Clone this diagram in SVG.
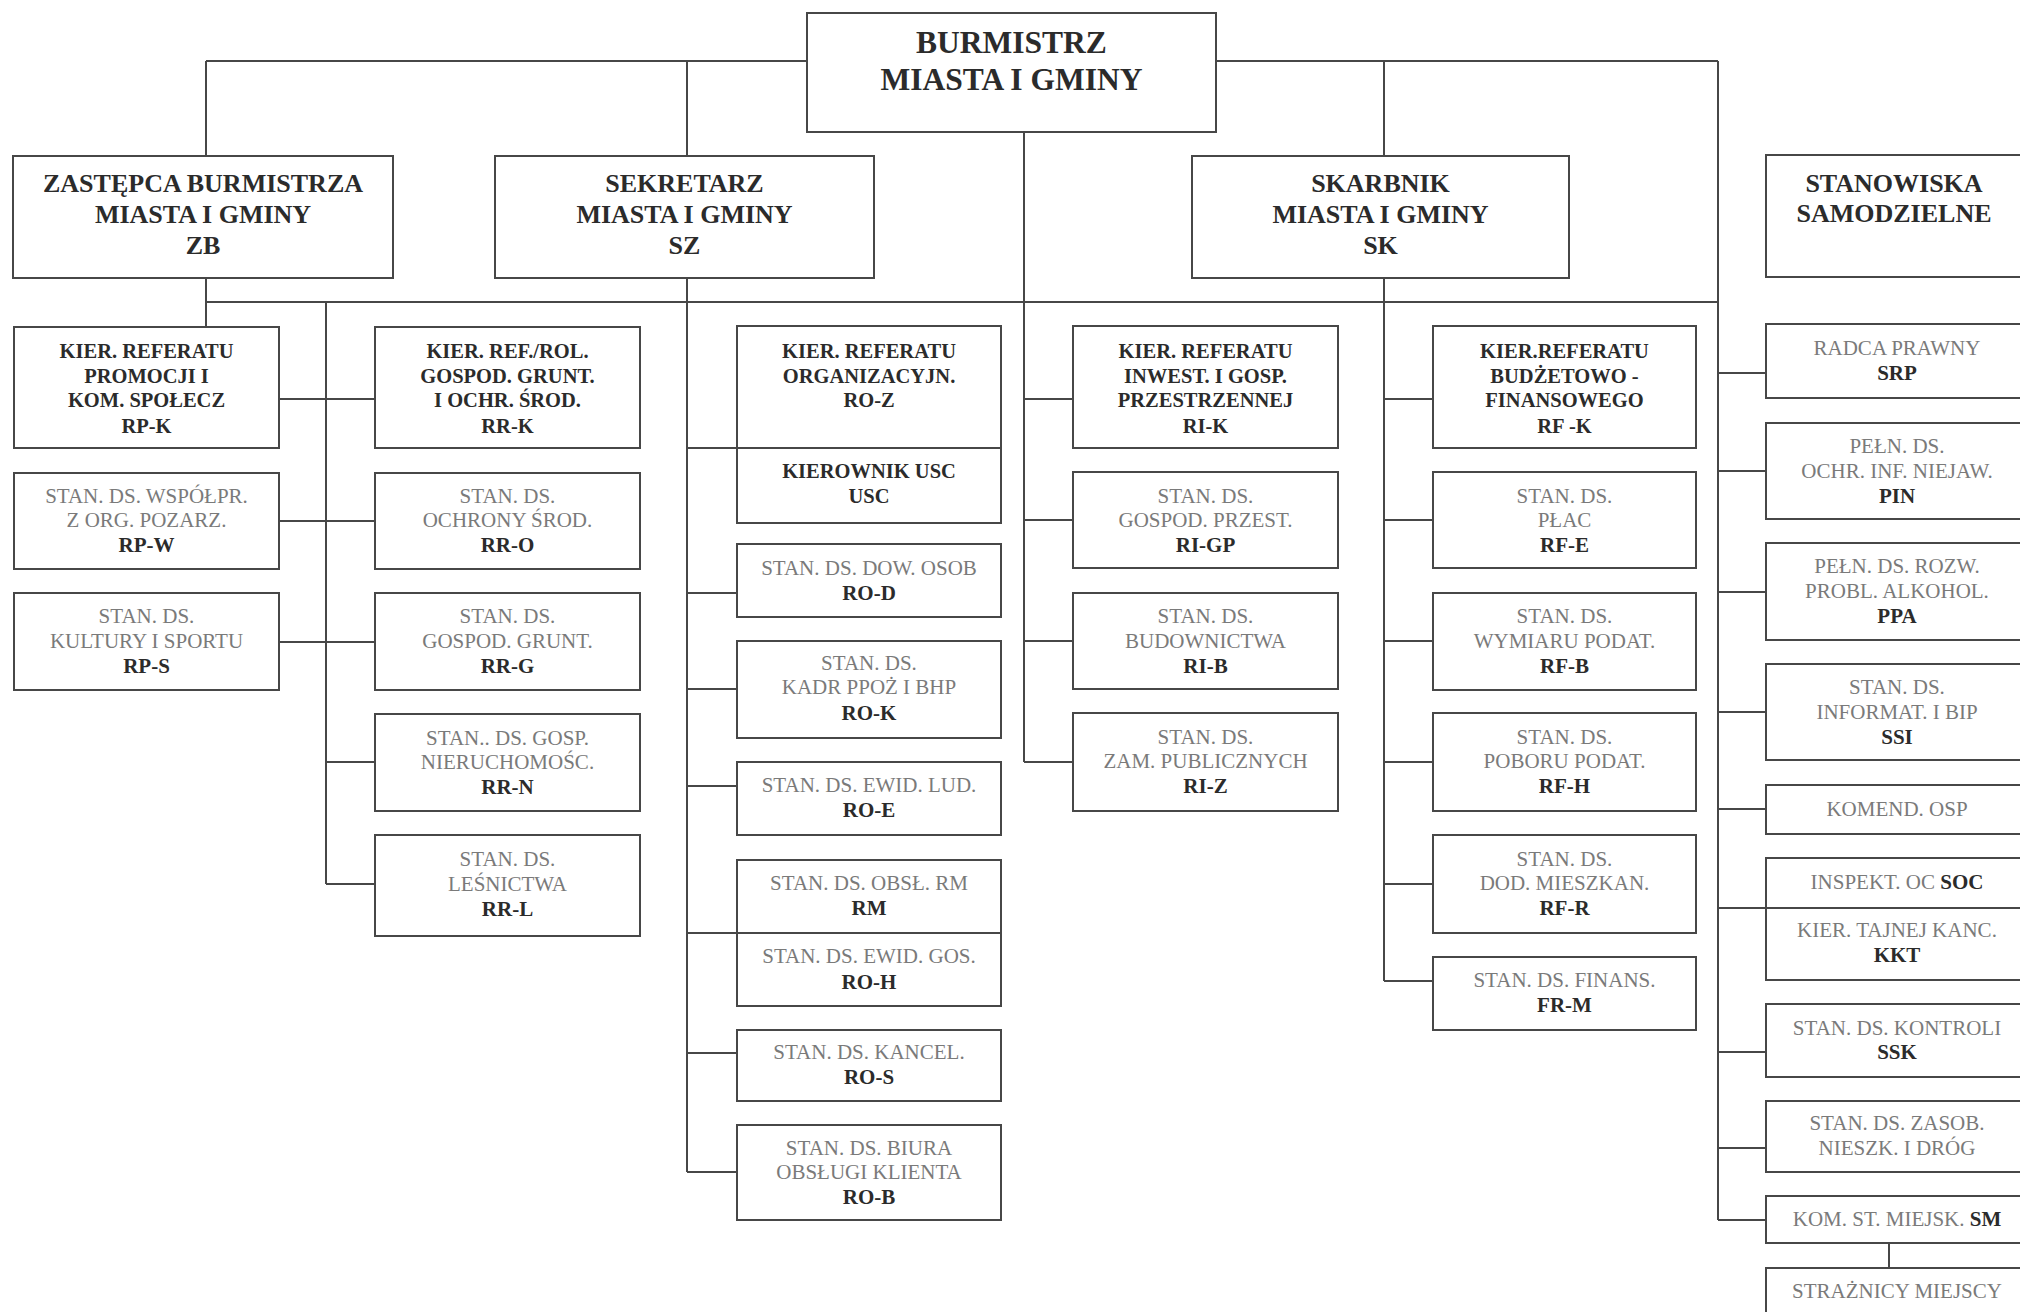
<svg xmlns="http://www.w3.org/2000/svg" width="2020" height="1312" viewBox="0 0 2020 1312">
<style>
.box{fill:#fff;stroke:#474747;stroke-width:2}
.c{stroke:#474747;stroke-width:2;fill:none}
text{font-family:"Liberation Serif","Times New Roman",serif;text-anchor:middle}
.h1{font-size:31.5px;font-weight:bold;fill:#2b2b2b}
.h2{font-size:26px;font-weight:bold;fill:#2b2b2b}
.b{font-size:20.5px;font-weight:bold;fill:#2b2b2b}
.g{font-size:21px;fill:#7a7a7a}
.k{font-weight:bold;fill:#2b2b2b}
</style>
<rect width="2020" height="1312" fill="#fff"/>
<g id="connectors">
<path class="c" d="M206 61H807M1216 61H1718M206 61V156M687 61V156M1384 61V156M1718 61V1220"/>
<path class="c" d="M206 302H1718M206 278V327M326 302V884M687 278V1172M1024 132V762M1384 278V981"/>
<path class="c" d="M279 399H375M279 521H375M279 642H375M326 762H375M326 884H375"/>
<path class="c" d="M687 448H737M687 593H737M687 689H737M687 786H737M687 933H737M687 1053H737M687 1172H737"/>
<path class="c" d="M1024 399H1073M1024 520H1073M1024 641H1073M1024 762H1073"/>
<path class="c" d="M1384 399H1433M1384 520H1433M1384 641H1433M1384 762H1433M1384 884H1433M1384 981H1433"/>
<path class="c" d="M1718 373H1766M1718 471H1766M1718 592H1766M1718 712H1766M1718 809H1766M1718 908H1766M1718 1052H1766M1718 1148H1766M1718 1220H1766M1889 1243V1268"/>
</g>
<g id="burmistrz"><rect class="box" x="807" y="13" width="409" height="119"/><text class="h1" x="1011.5"><tspan x="1011.5" y="53">BURMISTRZ</tspan><tspan x="1011.5" y="90">MIASTA I GMINY</tspan></text></g>
<g id="zb"><rect class="box" x="13" y="156" width="380" height="122"/><text class="h2"><tspan x="203" y="192">ZASTĘPCA BURMISTRZA</tspan><tspan x="203" y="223">MIASTA I GMINY</tspan><tspan x="203" y="254">ZB</tspan></text></g>
<g id="sz"><rect class="box" x="495" y="156" width="379" height="122"/><text class="h2"><tspan x="684.5" y="192">SEKRETARZ</tspan><tspan x="684.5" y="223">MIASTA I GMINY</tspan><tspan x="684.5" y="254">SZ</tspan></text></g>
<g id="sk"><rect class="box" x="1192" y="156" width="377" height="122"/><text class="h2"><tspan x="1380.5" y="192">SKARBNIK</tspan><tspan x="1380.5" y="223">MIASTA I GMINY</tspan><tspan x="1380.5" y="254">SK</tspan></text></g>
<g id="stanowiska"><rect class="box" x="1766" y="155" width="262" height="122"/><text class="h2"><tspan x="1894" y="192">STANOWISKA</tspan><tspan x="1894" y="222">SAMODZIELNE</tspan></text></g>

<g id="rp-k"><rect class="box" x="14" y="327" width="265" height="121"/><text class="b"><tspan x="146.5" y="358">KIER. REFERATU</tspan><tspan x="146.5" y="383">PROMOCJI I</tspan><tspan x="146.5" y="407">KOM. SPOŁECZ</tspan><tspan x="146.5" y="433">RP-K</tspan></text></g>
<g id="rp-w"><rect class="box" x="14" y="473" width="265" height="96"/><text class="g"><tspan x="146.5" y="503">STAN. DS. WSPÓŁPR.</tspan><tspan x="146.5" y="527">Z ORG. POZARZ.</tspan><tspan class="k" x="146.5" y="552">RP-W</tspan></text></g>
<g id="rp-s"><rect class="box" x="14" y="593" width="265" height="97"/><text class="g"><tspan x="146.5" y="623">STAN. DS.</tspan><tspan x="146.5" y="648">KULTURY I SPORTU</tspan><tspan class="k" x="146.5" y="673">RP-S</tspan></text></g>

<g id="rr-k"><rect class="box" x="375" y="327" width="265" height="121"/><text class="b"><tspan x="507.5" y="358">KIER. REF./ROL.</tspan><tspan x="507.5" y="383">GOSPOD. GRUNT.</tspan><tspan x="507.5" y="407">I OCHR. ŚROD.</tspan><tspan x="507.5" y="433">RR-K</tspan></text></g>
<g id="rr-o"><rect class="box" x="375" y="473" width="265" height="96"/><text class="g"><tspan x="507.5" y="503">STAN. DS.</tspan><tspan x="507.5" y="527">OCHRONY ŚROD.</tspan><tspan class="k" x="507.5" y="552">RR-O</tspan></text></g>
<g id="rr-g"><rect class="box" x="375" y="593" width="265" height="97"/><text class="g"><tspan x="507.5" y="623">STAN. DS.</tspan><tspan x="507.5" y="648">GOSPOD. GRUNT.</tspan><tspan class="k" x="507.5" y="673">RR-G</tspan></text></g>
<g id="rr-n"><rect class="box" x="375" y="714" width="265" height="97"/><text class="g"><tspan x="507.5" y="745">STAN.. DS. GOSP.</tspan><tspan x="507.5" y="769">NIERUCHOMOŚC.</tspan><tspan class="k" x="507.5" y="794">RR-N</tspan></text></g>
<g id="rr-l"><rect class="box" x="375" y="835" width="265" height="101"/><text class="g"><tspan x="507.5" y="866">STAN. DS.</tspan><tspan x="507.5" y="891">LEŚNICTWA</tspan><tspan class="k" x="507.5" y="916">RR-L</tspan></text></g>

<g id="ro-z"><rect class="box" x="737" y="326" width="264" height="122"/><text class="b"><tspan x="869" y="358">KIER. REFERATU</tspan><tspan x="869" y="383">ORGANIZACYJN.</tspan><tspan x="869" y="407">RO-Z</tspan></text></g>
<g id="usc"><rect class="box" x="737" y="448" width="264" height="75"/><text class="b"><tspan x="869" y="478">KIEROWNIK USC</tspan><tspan x="869" y="503">USC</tspan></text></g>
<g id="ro-d"><rect class="box" x="737" y="544" width="264" height="73"/><text class="g"><tspan x="869" y="575">STAN. DS. DOW. OSOB</tspan><tspan class="k" x="869" y="600">RO-D</tspan></text></g>
<g id="ro-k"><rect class="box" x="737" y="641" width="264" height="97"/><text class="g"><tspan x="869" y="670">STAN. DS.</tspan><tspan x="869" y="694">KADR PPOŻ I BHP</tspan><tspan class="k" x="869" y="720">RO-K</tspan></text></g>
<g id="ro-e"><rect class="box" x="737" y="762" width="264" height="73"/><text class="g"><tspan x="869" y="792">STAN. DS. EWID. LUD.</tspan><tspan class="k" x="869" y="817">RO-E</tspan></text></g>
<g id="rm"><rect class="box" x="737" y="860" width="264" height="73"/><text class="g"><tspan x="869" y="890">STAN. DS. OBSŁ. RM</tspan><tspan class="k" x="869" y="915">RM</tspan></text></g>
<g id="ro-h"><rect class="box" x="737" y="933" width="264" height="73"/><text class="g"><tspan x="869" y="963">STAN. DS. EWID. GOS.</tspan><tspan class="k" x="869" y="989">RO-H</tspan></text></g>
<g id="ro-s"><rect class="box" x="737" y="1030" width="264" height="71"/><text class="g"><tspan x="869" y="1059">STAN. DS. KANCEL.</tspan><tspan class="k" x="869" y="1084">RO-S</tspan></text></g>
<g id="ro-b"><rect class="box" x="737" y="1125" width="264" height="95"/><text class="g"><tspan x="869" y="1155">STAN. DS. BIURA</tspan><tspan x="869" y="1179">OBSŁUGI KLIENTA</tspan><tspan class="k" x="869" y="1204">RO-B</tspan></text></g>

<g id="ri-k"><rect class="box" x="1073" y="326" width="265" height="122"/><text class="b"><tspan x="1205.5" y="358">KIER. REFERATU</tspan><tspan x="1205.5" y="383">INWEST. I GOSP.</tspan><tspan x="1205.5" y="407">PRZESTRZENNEJ</tspan><tspan x="1205.5" y="433">RI-K</tspan></text></g>
<g id="ri-gp"><rect class="box" x="1073" y="472" width="265" height="96"/><text class="g"><tspan x="1205.5" y="503">STAN. DS.</tspan><tspan x="1205.5" y="527">GOSPOD. PRZEST.</tspan><tspan class="k" x="1205.5" y="552">RI-GP</tspan></text></g>
<g id="ri-b"><rect class="box" x="1073" y="593" width="265" height="96"/><text class="g"><tspan x="1205.5" y="623">STAN. DS.</tspan><tspan x="1205.5" y="648">BUDOWNICTWA</tspan><tspan class="k" x="1205.5" y="673">RI-B</tspan></text></g>
<g id="ri-z"><rect class="box" x="1073" y="713" width="265" height="98"/><text class="g"><tspan x="1205.5" y="744">STAN. DS.</tspan><tspan x="1205.5" y="768">ZAM. PUBLICZNYCH</tspan><tspan class="k" x="1205.5" y="793">RI-Z</tspan></text></g>

<g id="rf-k"><rect class="box" x="1433" y="326" width="263" height="122"/><text class="b"><tspan x="1564.5" y="358">KIER.REFERATU</tspan><tspan x="1564.5" y="383">BUDŻETOWO -</tspan><tspan x="1564.5" y="407">FINANSOWEGO</tspan><tspan x="1564.5" y="433">RF -K</tspan></text></g>
<g id="rf-e"><rect class="box" x="1433" y="472" width="263" height="96"/><text class="g"><tspan x="1564.5" y="503">STAN. DS.</tspan><tspan x="1564.5" y="527">PŁAC</tspan><tspan class="k" x="1564.5" y="552">RF-E</tspan></text></g>
<g id="rf-b"><rect class="box" x="1433" y="593" width="263" height="97"/><text class="g"><tspan x="1564.5" y="623">STAN. DS.</tspan><tspan x="1564.5" y="648">WYMIARU PODAT.</tspan><tspan class="k" x="1564.5" y="673">RF-B</tspan></text></g>
<g id="rf-h"><rect class="box" x="1433" y="713" width="263" height="98"/><text class="g"><tspan x="1564.5" y="744">STAN. DS.</tspan><tspan x="1564.5" y="768">POBORU PODAT.</tspan><tspan class="k" x="1564.5" y="793">RF-H</tspan></text></g>
<g id="rf-r"><rect class="box" x="1433" y="835" width="263" height="98"/><text class="g"><tspan x="1564.5" y="866">STAN. DS.</tspan><tspan x="1564.5" y="890">DOD. MIESZKAN.</tspan><tspan class="k" x="1564.5" y="915">RF-R</tspan></text></g>
<g id="fr-m"><rect class="box" x="1433" y="957" width="263" height="73"/><text class="g"><tspan x="1564.5" y="987">STAN. DS. FINANS.</tspan><tspan class="k" x="1564.5" y="1012">FR-M</tspan></text></g>

<g id="srp"><rect class="box" x="1766" y="324" width="262" height="74"/><text class="g"><tspan x="1897" y="355">RADCA PRAWNY</tspan><tspan class="k" x="1897" y="380">SRP</tspan></text></g>
<g id="pin"><rect class="box" x="1766" y="423" width="262" height="96"/><text class="g"><tspan x="1897" y="453">PEŁN. DS.</tspan><tspan x="1897" y="478">OCHR. INF. NIEJAW.</tspan><tspan class="k" x="1897" y="503">PIN</tspan></text></g>
<g id="ppa"><rect class="box" x="1766" y="543" width="262" height="97"/><text class="g"><tspan x="1897" y="573">PEŁN. DS. ROZW.</tspan><tspan x="1897" y="598">PROBL. ALKOHOL.</tspan><tspan class="k" x="1897" y="623">PPA</tspan></text></g>
<g id="ssi"><rect class="box" x="1766" y="664" width="262" height="96"/><text class="g"><tspan x="1897" y="694">STAN. DS.</tspan><tspan x="1897" y="719">INFORMAT. I BIP</tspan><tspan class="k" x="1897" y="744">SSI</tspan></text></g>
<g id="osp"><rect class="box" x="1766" y="785" width="262" height="49"/><text class="g"><tspan x="1897" y="816">KOMEND. OSP</tspan></text></g>
<g id="soc"><rect class="box" x="1766" y="858" width="262" height="50"/><text class="g" x="1897" y="889">INSPEKT. OC <tspan class="k">SOC</tspan></text></g>
<g id="kkt"><rect class="box" x="1766" y="908" width="262" height="72"/><text class="g"><tspan x="1897" y="937">KIER. TAJNEJ KANC.</tspan><tspan class="k" x="1897" y="962">KKT</tspan></text></g>
<g id="ssk"><rect class="box" x="1766" y="1004" width="262" height="73"/><text class="g"><tspan x="1897" y="1035">STAN. DS. KONTROLI</tspan><tspan class="k" x="1897" y="1059">SSK</tspan></text></g>
<g id="zasob"><rect class="box" x="1766" y="1101" width="262" height="71"/><text class="g"><tspan x="1897" y="1130">STAN. DS. ZASOB.</tspan><tspan x="1897" y="1155">NIESZK. I DRÓG</tspan></text></g>
<g id="sm"><rect class="box" x="1766" y="1196" width="262" height="47"/><text class="g" x="1897" y="1226">KOM. ST. MIEJSK. <tspan class="k">SM</tspan></text></g>
<g id="straznicy"><rect class="box" x="1766" y="1268" width="262" height="60"/><text class="g" x="1897" y="1298">STRAŻNICY MIEJSCY</text></g>
</svg>
